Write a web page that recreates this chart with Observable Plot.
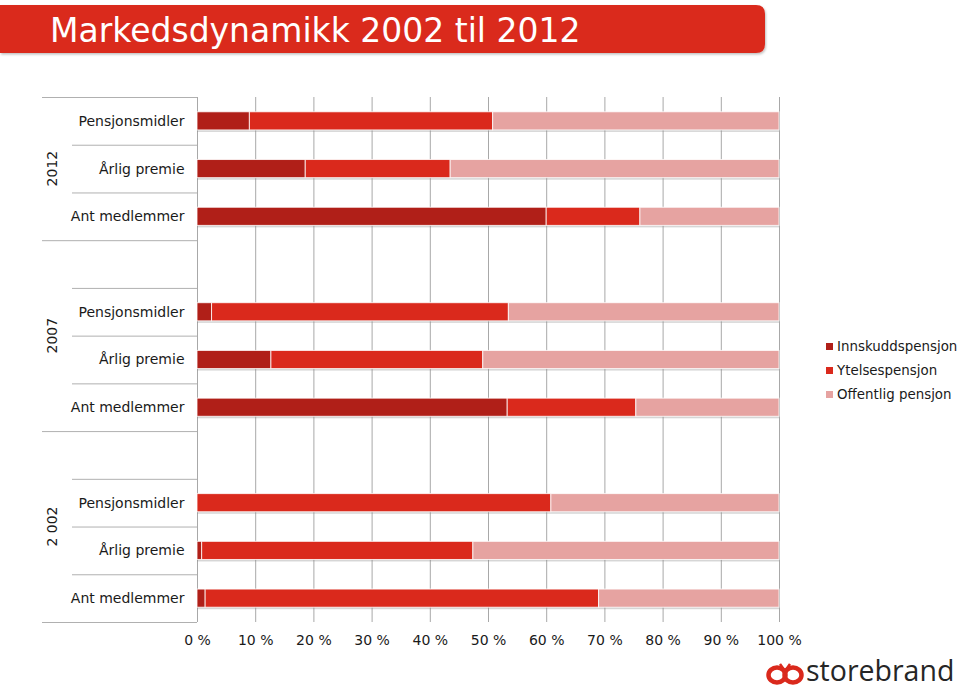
<!DOCTYPE html>
<html>
<head>
<meta charset="utf-8">
<script src="https://cdn.jsdelivr.net/npm/d3@7"></script>
<script src="https://cdn.jsdelivr.net/npm/@observablehq/plot@0.6"></script>
<style>
  html, body { margin: 0; padding: 0; background: #fff; }
  body { width: 960px; height: 690px; overflow: hidden; position: relative; font-family: "DejaVu Sans", Verdana, sans-serif; }
  #chart { position: absolute; left: 0; top: 0; }
  #banner { position: absolute; left: 0; top: 0; }
  #legend { position: absolute; left: 826px; top: 334px; font-size: 13.4px; color: #1a1a1a; }
  #legend .item { height: 24px; display: flex; align-items: center; white-space: nowrap; }
  #legend .sw { width: 7px; height: 7px; margin-right: 4px; display: inline-block; }
  #logo { position: absolute; left: 0; top: 0; }
</style>
</head>
<body>
<div id="chart"></div>
<svg id="banner" width="960" height="60">
  <defs>
    <filter id="sh" x="-5%" y="-20%" width="110%" height="150%">
      <feDropShadow dx="1" dy="1.5" stdDeviation="1.2" flood-color="#000" flood-opacity="0.25"/>
    </filter>
  </defs>
  <path d="M0,5 H756 Q765,5 765,14 V44 Q765,53 756,53 H0 Z" fill="#DA291C" filter="url(#sh)"/>
  <text x="50" y="42" fill="#fff" font-family="DejaVu Sans, Verdana, sans-serif" font-size="33">Markedsdynamikk 2002 til 2012</text>
</svg>
<div id="legend"></div>
<svg id="logo" width="960" height="690" style="pointer-events:none">
  <g fill="none" stroke="#DA291C" stroke-width="4.5">
    <ellipse cx="777" cy="675" rx="8.5" ry="7.5"/>
    <ellipse cx="793" cy="675" rx="8.5" ry="7.5"/>
  </g>
  <path d="M780,664 L785,671 L790,664" fill="none" stroke="#DA291C" stroke-width="2.5"/>
  <text x="806" y="681" fill="#262626" font-family="Open Sans, sans-serif" font-size="28.5">storebrand</text>
</svg>
<script>
// ---- data ----
const years = ["2012", "2007", "2 002"];
const categories = ["Pensjonsmidler", "Årlig premie", "Ant medlemmer"];
const seriesNames = ["Innskuddspensjon", "Ytelsespensjon", "Offentlig pensjon"];
const seriesColors = ["#B01F18", "#DA291C", "#E6A3A1"];
// per year (2012, 2007, 2002) x category (Pensjonsmidler, Årlig premie, Ant medlemmer), percent
const innskudd  = [9.0, 18.6, 60.0,   2.5, 12.7, 53.3,   0.0,  0.8,  1.4];
const ytelse    = [41.8, 24.9, 16.1,  51.0, 36.4, 22.1,  60.8, 46.6, 67.6];
const offentlig = [49.2, 56.5, 23.9,  46.5, 50.9, 24.6,  39.2, 52.6, 31.0];
const xTicks = [0, 10, 20, 30, 40, 50, 60, 70, 80, 90, 100];

// ---- build table ----
const rowKey = (yr, c) => `${yr}|${c}`;
const rowDomain = [];
years.forEach((yr, i) => {
  if (i > 0) rowDomain.push(`${yr}|`);
  categories.forEach(c => rowDomain.push(rowKey(yr, c)));
});
const seriesValues = [innskudd, ytelse, offentlig];
const data = [];
const totals = [];
years.forEach((yr, i) => categories.forEach((c, j) => {
  let t = 0;
  seriesNames.forEach((s, k) => {
    const v = seriesValues[k][i * 3 + j];
    t += v;
    data.push({row: rowKey(yr, c), series: s, value: v});
  });
  totals.push({row: rowKey(yr, c), total: t});
}));

const plot = Plot.plot({
  width: 960, height: 690,
  marginTop: 97, marginBottom: 68, marginLeft: 197, marginRight: 181,
  style: {fontFamily: "DejaVu Sans, Verdana, sans-serif", fontSize: "14px", color: "#1a1a1a", background: "transparent"},
  x: {domain: [0, 100], axis: null},
  y: {domain: rowDomain, paddingInner: 0.62, paddingOuter: 0.31, round: false, axis: null},
  color: {domain: seriesNames, range: seriesColors},
  marks: [
    Plot.gridX(xTicks, {stroke: "#a8a8a8", strokeOpacity: 1}),
    Plot.barX(totals, {x1: 0, x2: "total", y: "row", dy: 2, fill: "#8a8a8a", fillOpacity: 0.35}),
    Plot.barX(data, Plot.stackX({x: "value", y: "row", fill: "series", stroke: "#ffffff", strokeWidth: 1, strokeOpacity: 0.8})),
    Plot.axisX({ticks: xTicks, tickFormat: d => `${d} %`, tickSize: 0, tickPadding: 13, fontSize: 14, label: null}),
    Plot.axisY({tickSize: 0, tickPadding: 13, tickFormat: r => r.split("|")[1], fontSize: 14, label: null})
  ]
});
document.getElementById("chart").appendChild(plot);

// ---- left-side group separators and year labels, positioned from the y scale ----
const ys = plot.scale("y");
const gapHalf = (ys.step - ys.bandwidth) / 2;
const topOf = k => ys.apply(k) - gapHalf;
const bottomOf = k => ys.apply(k) + ys.bandwidth + gapHalf;
const svg = d3.select(plot);
const g = svg.append("g").attr("stroke", "#b0b0b0").attr("stroke-width", 1);
const x0 = 197;
years.forEach((yr, i) => {
  const groupRows = rowDomain.filter(r => r.startsWith(yr + "|"));
  const gTop = topOf(groupRows[0]);
  const gBot = bottomOf(groupRows[groupRows.length - 1]);
  g.append("line").attr("x1", 42).attr("x2", x0).attr("y1", gTop + 0.5).attr("y2", gTop + 0.5);
  if (i === years.length - 1) g.append("line").attr("x1", 42).attr("x2", x0).attr("y1", gBot + 0.5).attr("y2", gBot + 0.5);
  groupRows.slice(1).forEach(r => {
    const yy = topOf(r);
    g.append("line").attr("x1", 72).attr("x2", x0).attr("y1", yy + 0.5).attr("y2", yy + 0.5);
  });
  const cy = (gTop + gBot) / 2;
  svg.append("text")
    .attr("transform", `translate(57,${cy}) rotate(-90)`)
    .attr("text-anchor", "middle")
    .attr("fill", "#1a1a1a")
    .attr("font-family", "DejaVu Sans, Verdana, sans-serif")
    .attr("font-size", 14)
    .text(yr);
});

// ---- legend ----
const legend = d3.select("#legend");
seriesNames.forEach((s, i) => {
  const it = legend.append("div").attr("class", "item");
  it.append("span").attr("class", "sw").style("background", seriesColors[i]);
  it.append("span").text(s);
});
</script>
</body>
</html>
